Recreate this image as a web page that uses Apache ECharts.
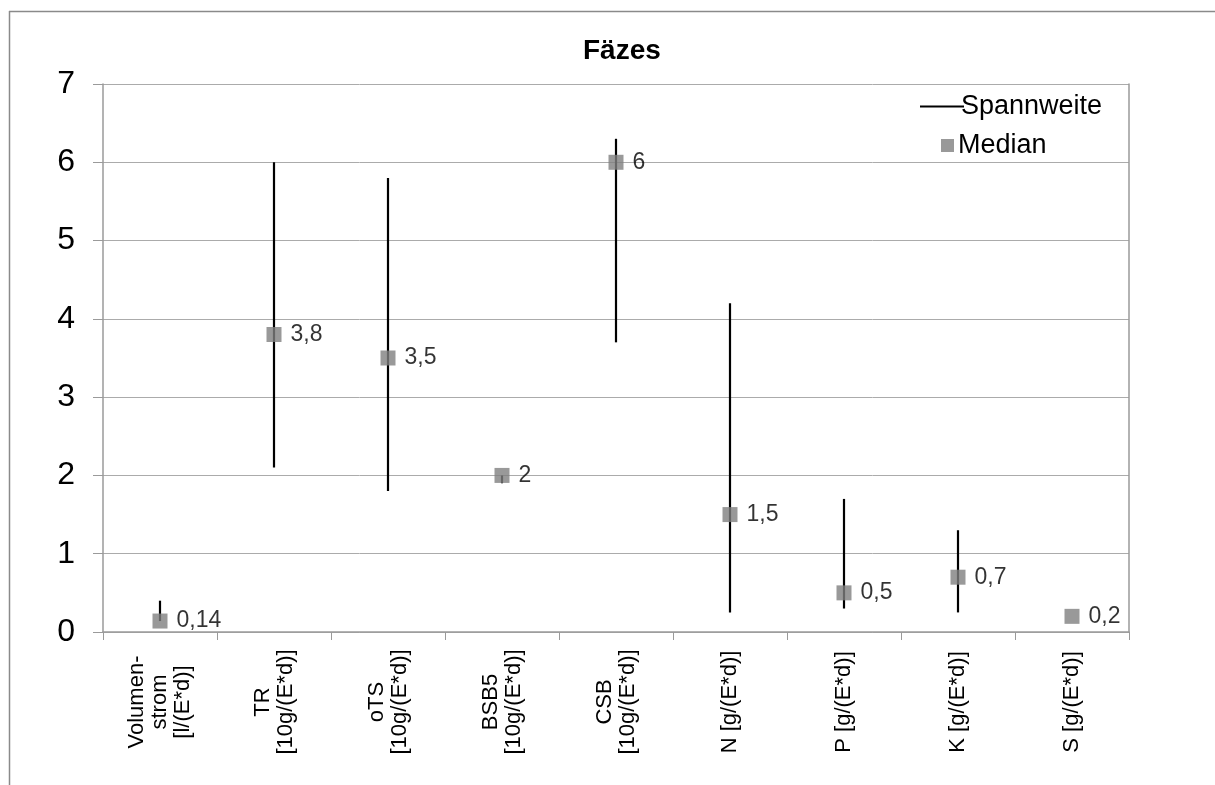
<!DOCTYPE html>
<html>
<head>
<meta charset="utf-8">
<script src="https://cdn.jsdelivr.net/npm/echarts@6/dist/echarts.min.js"></script>
<style>
  html, body { margin: 0; padding: 0; background: #fff; }
  #chart { width: 1215px; height: 785px; }
</style>
</head>
<body>
<div id="chart"></div>
<script>
// Parameters (daily loads per inhabitant)
const categories = [
  'Volumen-\nstrom\n[l/(E*d)]',
  'TR\n[10g/(E*d)]',
  'oTS\n[10g/(E*d)]',
  'BSB5\n[10g/(E*d)]',
  'CSB\n[10g/(E*d)]',
  'N [g/(E*d)]',
  'P [g/(E*d)]',
  'K [g/(E*d)]',
  'S [g/(E*d)]'
];
// Median values
const medians = [0.14, 3.8, 3.5, 2, 6, 1.5, 0.5, 0.7, 0.2];
// Range (Spannweite): lower and upper ends
const rangeMin = [0.14, 2.1, 1.8, 1.9, 3.7, 0.25, 0.3, 0.25, 0.2];
const rangeMax = [0.4, 6.0, 5.8, 2.0, 6.3, 4.2, 1.7, 1.3, 0.2];
// Value axis ticks
const yTicks = [0, 1, 2, 3, 4, 5, 6, 7];

const FONT = '"Liberation Sans", Arial, sans-serif';
const chart = echarts.init(document.getElementById('chart'), null, { renderer: 'canvas' });

const rangeData = categories.map((c, i) => [i, rangeMin[i], rangeMax[i]]);

chart.setOption({
  backgroundColor: '#ffffff',
  animation: false,
  textStyle: { fontFamily: FONT },
  title: {
    text: 'Fäzes',
    left: 578,
    top: 32,
    textStyle: { fontFamily: FONT, fontSize: 28, fontWeight: 'bold', color: '#000' }
  },
  graphic: [
    { type: 'line', shape: { x1: 9, y1: 11.5, x2: 1215, y2: 11.5 }, style: { stroke: '#8a8a8a', lineWidth: 1.5 } },
    { type: 'line', shape: { x1: 9.5, y1: 11, x2: 9.5, y2: 785 }, style: { stroke: '#8a8a8a', lineWidth: 1.5 } }
  ],
  legend: [
    {
      data: [{ name: 'Spannweite', icon: 'rect' }],
      left: 915, top: 88,
      itemWidth: 44, itemHeight: 2,
      textStyle: { fontFamily: FONT, fontSize: 27, color: '#000', padding: [0, 0, 0, -8] }
    },
    {
      data: [{ name: 'Median', icon: 'rect' }],
      left: 936, top: 127,
      itemWidth: 13, itemHeight: 13,
      textStyle: { fontFamily: FONT, fontSize: 27, color: '#000', padding: [0, 0, 0, -1] }
    }
  ],
  grid: { left: 103, right: 86, top: 84, bottom: 153, containLabel: false },
  xAxis: {
    type: 'category',
    data: categories,
    boundaryGap: true,
    axisLine: { lineStyle: { color: '#9a9a9a', width: 1.5 } },
    axisTick: { show: true, length: 8, lineStyle: { color: '#9a9a9a' } },
    axisLabel: {
      rotate: 90,
      align: 'center',
      verticalAlign: 'middle',
      margin: 70,
      fontFamily: FONT,
      fontSize: 22,
      lineHeight: 23,
      color: '#000',
      interval: 0
    },
    splitLine: { show: false }
  },
  yAxis: [
    {
      type: 'value',
      min: 0, max: 7, interval: 1,
      axisLine: { show: true, lineStyle: { color: '#9a9a9a', width: 1.5 } },
      axisTick: { show: true, length: 10, lineStyle: { color: '#9a9a9a' } },
      axisLabel: {
        fontFamily: FONT, fontSize: 32, color: '#000', margin: 28,
        formatter: v => yTicks.includes(v) ? String(v) : ''
      },
      splitLine: { show: true, lineStyle: { color: '#ababab', width: 1 } }
    },
    {
      type: 'value',
      position: 'right',
      min: 0, max: 7, interval: 1,
      axisLine: { show: true, lineStyle: { color: '#9a9a9a', width: 1.5 } },
      axisTick: { show: false },
      axisLabel: { show: false },
      splitLine: { show: false }
    }
  ],
  series: [
    {
      name: 'Spannweite',
      type: 'custom',
      itemStyle: { color: '#000' },
      data: rangeData,
      encode: { x: 0, y: [1, 2] },
      renderItem: function (params, api) {
        const idx = api.value(0);
        const lo = api.coord([idx, api.value(1)]);
        const hi = api.coord([idx, api.value(2)]);
        return {
          type: 'line',
          shape: { x1: lo[0], y1: lo[1], x2: hi[0], y2: hi[1] },
          style: { stroke: '#000', lineWidth: 2.2 }
        };
      },
      z: 2
    },
    {
      name: 'Median',
      type: 'scatter',
      symbol: 'rect',
      symbolSize: 15,
      itemStyle: { color: '#808080' },
      data: medians,
      label: {
        show: true,
        position: 'right',
        distance: 9,
        fontFamily: FONT,
        fontSize: 23,
        color: '#000',
        formatter: p => String(p.value).replace('.', ',')
      },
      z: 3
    }
  ]
});
</script>
</body>
</html>
